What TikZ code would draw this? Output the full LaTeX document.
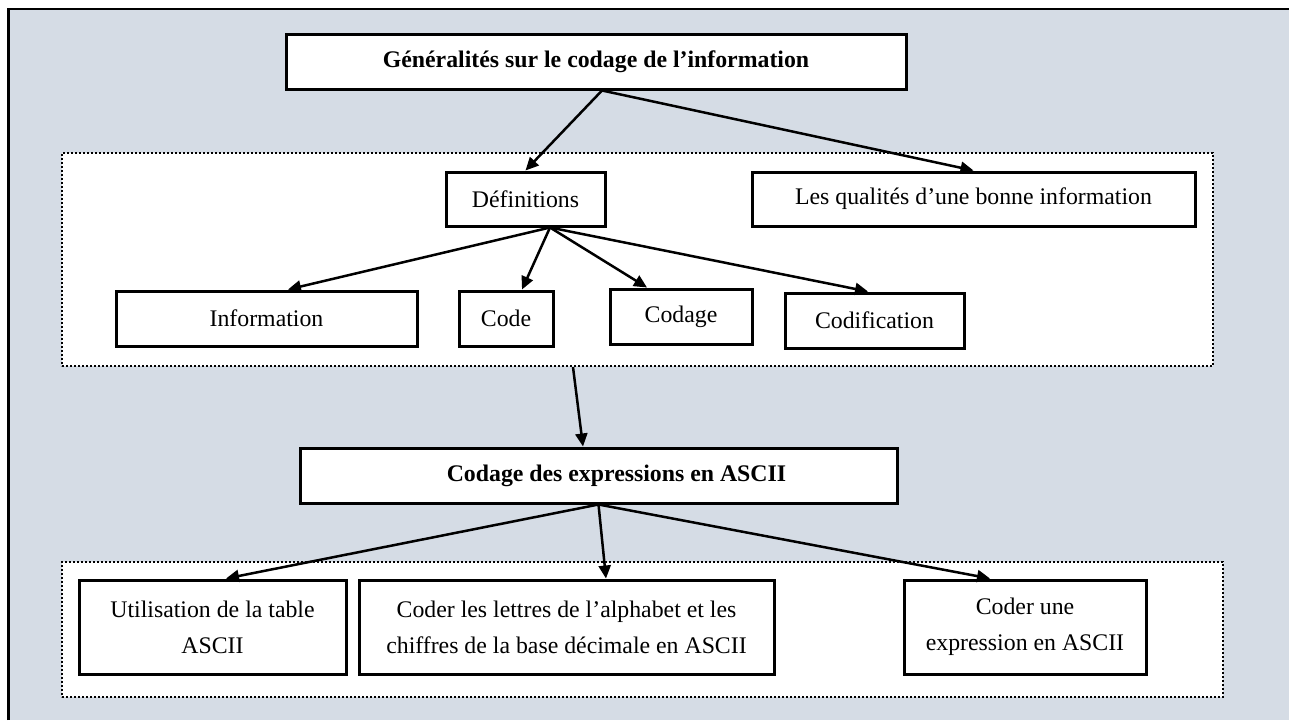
\documentclass[tikz,border=0pt]{standalone}
\usepackage{fontspec}
\setmainfont{Liberation Serif}
\usepackage{tikz}
\usetikzlibrary{arrows.meta}
\definecolor{panelblue}{RGB}{213,220,229}

\begin{document}
\begin{tikzpicture}[x=1pt, y=-1pt, font=\fontsize{23.8}{36}\selectfont]
				\tikzset{arrow/.style={-{Triangle[length=13pt, width=12pt]}, line width=2.5pt}}
				\tikzset{TopicBox/.style={draw, rectangle, fill=white, line width=3pt, inner sep=0pt, align=center}}
				\tikzset{GroupBox/.style={draw, rectangle, fill=white, line width=2.2pt, dash pattern=on 2.2pt off 1.8pt, inner sep=0pt}}

				\useasboundingbox (0,0) rectangle (1289,720);

				% Frame
				\fill [panelblue] (8.5,9) rectangle (1289,720);
				\draw [line width=2.8pt] (8.5,720) -- (8.5,9) -- (1289,9);

				% Groups
				\node (grp1) [GroupBox, minimum width=1151pt, minimum height=213pt] at (637.5,259.5) {};
				\node (grp2) [GroupBox, minimum width=1161pt, minimum height=135pt] at (642.5,629.5) {};

				% Level 0
				\node (general) [TopicBox, minimum width=620pt, minimum height=55pt, font=\fontsize{23.8}{36}\selectfont\bfseries] at (596,61.5) {Généralités sur le codage de l’information};

				% Level 1
				\node (defs) [TopicBox, minimum width=159pt, minimum height=54pt] at (525.5,199) {Définitions};
				\node (quals) [TopicBox, minimum width=443pt, minimum height=54pt] at (973.5,199) {Les qualités d’une bonne information};
				\draw [arrow] ([xshift=6pt]general.south) -- (defs.north);
				\draw [arrow] ([xshift=6pt]general.south) -- (quals.north);

				% Level 2
				\node (info) [TopicBox, minimum width=301pt, minimum height=55pt] at (266.5,318.5) {Information};
				\node (code) [TopicBox, minimum width=94pt, minimum height=55pt] at (506,318.5) {Code};
				\node (codage) [TopicBox, minimum width=142pt, minimum height=55pt] at (681,316.5) {Codage};
				\node (codif) [TopicBox, minimum width=179pt, minimum height=55pt] at (874.5,320.5) {Codification};
				\draw [arrow] ([xshift=24.5pt]defs.south) -- ([xshift=21.5pt]info.north);
				\draw [arrow] ([xshift=24.5pt]defs.south) -- ([xshift=16pt]code.north);
				\draw [arrow] ([xshift=24.5pt]defs.south) -- ([xshift=-34pt]codage.north);
				\draw [arrow] ([xshift=24.5pt]defs.south) -- ([xshift=-6.5pt]codif.north);

				% Level 3
				\node (ascii) [TopicBox, minimum width=597pt, minimum height=55pt, font=\fontsize{23.8}{36}\selectfont\bfseries] at (598.5,475.5) {\hspace*{36pt}Codage des expressions en ASCII};
				\draw [arrow] ([xshift=-64.5pt]grp1.south) -- ([xshift=-15.5pt]ascii.north);

				% Level 4
				\node (table) [TopicBox, minimum width=267pt, minimum height=94pt] at (212.5,627) {Utilisation de la table\\ASCII};
				\node (letters) [TopicBox, minimum width=415pt, minimum height=94pt] at (566.5,627) {Coder les lettres de l’alphabet et les\\chiffres de la base décimale en ASCII};
				\node (expr) [TopicBox, minimum width=242pt, minimum height=94pt] at (1025,627) {Coder une\\expression en ASCII};
				\draw [arrow] (ascii.south) -- ([xshift=13.5pt]table.north);
				\draw [arrow] (ascii.south) -- ([xshift=39.5pt]letters.north);
				\draw [arrow] (ascii.south) -- ([xshift=-35pt]expr.north);

			\end{tikzpicture}
\end{document}
